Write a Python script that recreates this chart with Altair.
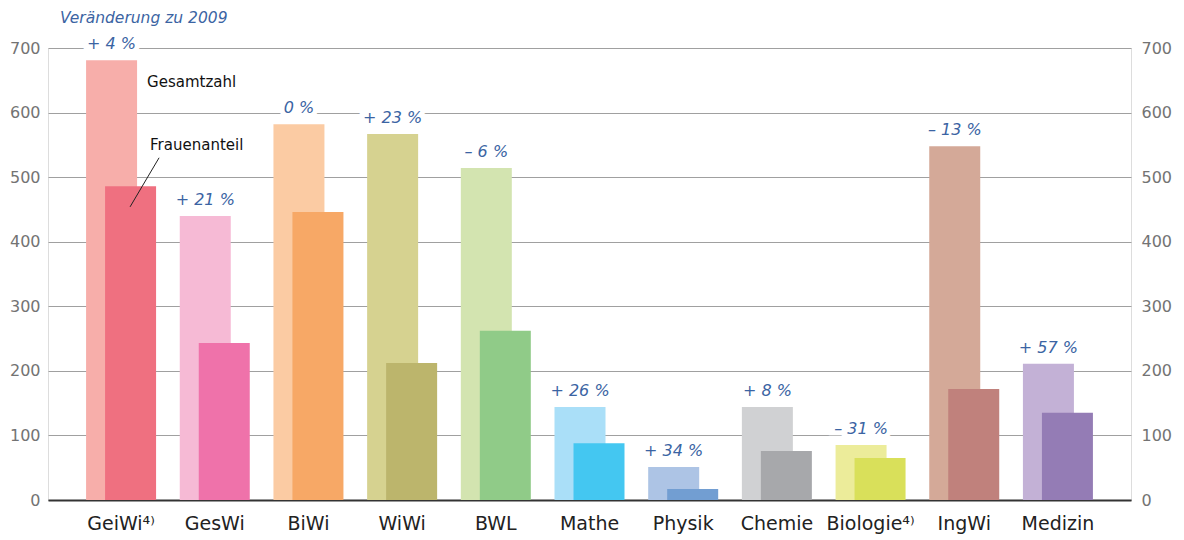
import altair as alt
import pandas as pd

categories = ["GeiWi⁴⁾", "GesWi", "BiWi", "WiWi", "BWL", "Mathe", "Physik",
              "Chemie", "Biologie⁴⁾", "IngWi", "Medizin"]
gesamt = [681, 440, 582, 567, 514, 144, 51, 144, 85, 548, 211]
frauen = [486, 243, 446, 212, 262, 88, 17, 76, 65, 172, 135]
veraenderung = ["+ 4 %", "+ 21 %", "0 %", "+ 23 %", "– 6 %", "+ 26 %",
                "+ 34 %", "+ 8 %", "– 31 %", "– 13 %", "+ 57 %"]
light_colors = ["#f7aeaa", "#f6bad5", "#fbcba3", "#d6d290", "#d3e4b0", "#aadff8",
                "#adc4e5", "#d0d1d3", "#ecec9a", "#d4a998", "#c3b1d6"]
dark_colors = ["#ef7080", "#ef72aa", "#f7a866", "#bcb56c", "#90cb88", "#44c7f1",
               "#729ed2", "#a7a8ab", "#d9e05a", "#c0817c", "#947cb5"]

df = pd.DataFrame({
    "cat": categories, "gesamt": gesamt, "frauen": frauen,
    "chg": veraenderung, "light": light_colors, "dark": dark_colors,
})

FONT = "DejaVu Sans"
BLUE = "#3b64a3"
ydom = [0, 700]
yticks = [0, 100, 200, 300, 400, 500, 600, 700]

xenc = alt.X("cat:N", sort=categories, title=None,
             scale=alt.Scale(paddingInner=0, paddingOuter=0.28),
             axis=alt.Axis(labelAngle=0, ticks=False, domainColor="#333333",
                           domainWidth=2, labelFont=FONT, labelFontSize=19,
                           labelColor="#222222", labelPadding=14))

base = alt.Chart(df)

light = base.mark_bar(width=51, xOffset=-9.5).encode(
    x=xenc,
    y=alt.Y("gesamt:Q", title=None, scale=alt.Scale(domain=ydom, nice=False),
            axis=alt.Axis(orient="left", values=yticks,
                          grid=True, gridColor="#a0a0a0", gridWidth=1, domain=False,
                          ticks=False, labelFont=FONT, labelFontSize=16,
                          labelColor="#737373", labelPadding=8)),
    color=alt.Color("light:N", scale=None),
)

dark = base.mark_bar(width=51, xOffset=9.5).encode(
    x=alt.X("cat:N", sort=categories),
    y=alt.Y("frauen:Q", title=None, scale=alt.Scale(domain=ydom, nice=False),
            axis=alt.Axis(orient="right", values=yticks,
                          grid=False, domain=False, ticks=False, labelFont=FONT,
                          labelFontSize=16, labelColor="#737373", labelPadding=10,
                          labelAlign="left")),
    color=alt.Color("dark:N", scale=None),
)

halo = base.mark_text(xOffset=-9.5, dy=-16, baseline="middle", align="center",
                      font=FONT, fontSize=16, fontStyle="italic",
                      stroke="white", strokeWidth=10, fill="white").encode(
    x=alt.X("cat:N", sort=categories),
    y=alt.Y("gesamt:Q", scale=alt.Scale(domain=ydom, nice=False), axis=None),
    text="chg:N",
)
pct = base.mark_text(xOffset=-9.5, dy=-16, baseline="middle", align="center",
                     font=FONT, fontSize=16, fontStyle="italic", color=BLUE).encode(
    x=alt.X("cat:N", sort=categories),
    y=alt.Y("gesamt:Q", scale=alt.Scale(domain=ydom, nice=False), axis=None),
    text="chg:N",
)

ann = pd.DataFrame({
    "cat": [categories[0]] * 3,
    "y": [746, 647, 550],
    "txt": ["Veränderung zu 2009", "Gesamtzahl", "Frauenanteil"],
})

title_txt = alt.Chart(ann.iloc[[0]]).mark_text(
    align="left", baseline="middle", font=FONT, fontSize=15.5, fontStyle="italic",
    color=BLUE, dx=-61).encode(
    x=alt.X("cat:N", sort=categories),
    y=alt.Y("y:Q", scale=alt.Scale(domain=ydom, nice=False), axis=None),
    text="txt:N",
)
lbl1 = alt.Chart(ann.iloc[[1]]).mark_text(
    align="left", baseline="middle", font=FONT, fontSize=15, color="#111111",
    dx=26).encode(
    x=alt.X("cat:N", sort=categories),
    y=alt.Y("y:Q", scale=alt.Scale(domain=ydom, nice=False), axis=None),
    text="txt:N",
)
lbl2 = alt.Chart(ann.iloc[[2]]).mark_text(
    align="left", baseline="middle", font=FONT, fontSize=15, color="#111111",
    dx=29).encode(
    x=alt.X("cat:N", sort=categories),
    y=alt.Y("y:Q", scale=alt.Scale(domain=ydom, nice=False), axis=None),
    text="txt:N",
)

leader_df = pd.DataFrame({"cat": [categories[0]], "y1": [454], "y2": [530]})
leader = alt.Chart(leader_df).mark_rule(color="#222222", strokeWidth=1,
                                        xOffset=9, x2Offset=38).encode(
    x=alt.X("cat:N", sort=categories),
    x2="cat:N",
    y=alt.Y("y1:Q", scale=alt.Scale(domain=ydom, nice=False), axis=None),
    y2="y2:Q",
)

chart = alt.layer(light, dark, halo, pct, title_txt, lbl1, lbl2, leader).resolve_scale(
    y="independent"
).properties(
    width=1083, height=452,
    autosize=alt.AutoSizeParams(type="none"),
    padding={"left": 40, "top": 40, "right": 45, "bottom": 40},
).configure_view(stroke=None).configure(background="white")

chart.save("out.html", embed_options={"renderer": "svg", "actions": False})
